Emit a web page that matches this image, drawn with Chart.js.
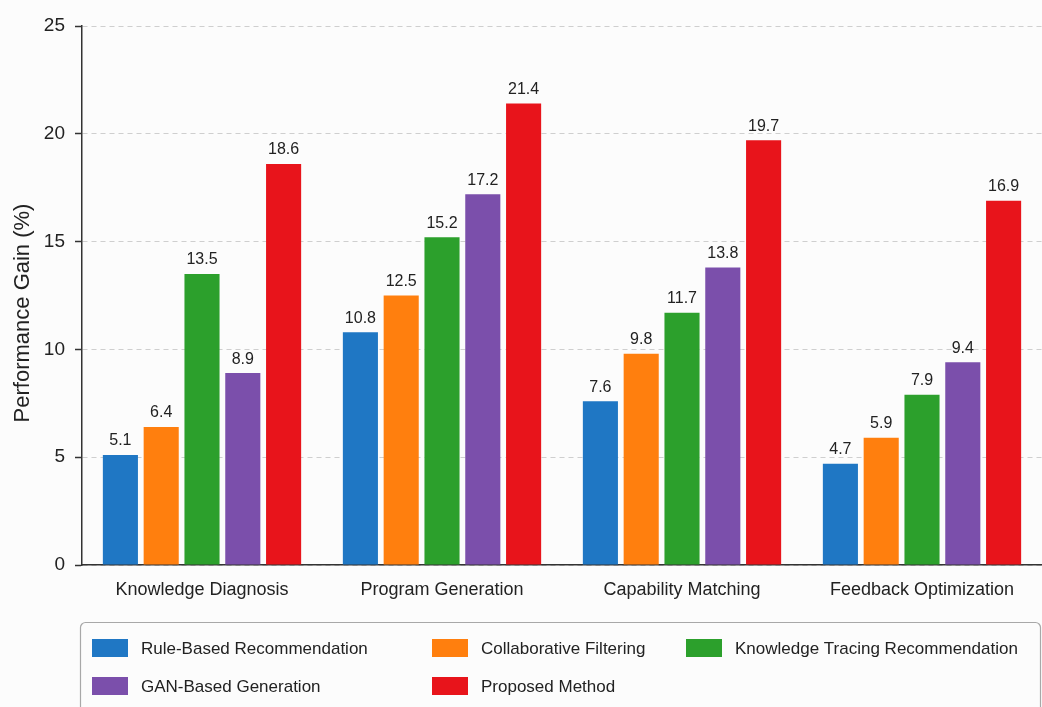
<!DOCTYPE html>
<html>
<head>
<meta charset="utf-8">
<script src="https://cdn.jsdelivr.net/npm/chart.js@4.4.1/dist/chart.umd.min.js"></script>
<style>
  html, body { margin: 0; padding: 0; background: #fcfcfc; }
  #wrap { width: 1042px; height: 707px; position: relative; }
</style>
</head>
<body>
<div id="wrap"><canvas id="gainChart"></canvas></div>
<script>
// categories + series
const categories = ["Knowledge Diagnosis", "Program Generation", "Capability Matching", "Feedback Optimization"];
const ruleBased     = [5.1, 10.8, 7.6, 4.7];
const collaborative = [6.4, 12.5, 9.8, 5.9];
const knowTracing   = [13.5, 15.2, 11.7, 7.9];
const ganBased      = [8.9, 17.2, 13.8, 9.4];
const proposed      = [18.6, 21.4, 19.7, 16.9];
const seriesNames = ["Rule-Based Recommendation", "Collaborative Filtering", "Knowledge Tracing Recommendation", "GAN-Based Generation", "Proposed Method"];
const yTicks = [0, 5, 10, 15, 20, 25];
const yTitle = "Performance Gain (%)";

const colors = ["#1f77c4", "#ff7f0e", "#2ca02c", "#7b4fab", "#e8141b"];
const FONT = "'Liberation Sans', Arial, sans-serif";

const q = id => document.getElementById(id);

// value labels on top of each bar
const valueLabels = {
  id: "valueLabels",
  afterDatasetsDraw(chart){
    const c = chart.ctx;
    c.save();
    c.font = "16px " + FONT;
    c.fillStyle = "#222";
    c.textAlign = "center";
    c.textBaseline = "bottom";
    chart.data.datasets.forEach((ds, i) => {
      const meta = chart.getDatasetMeta(i);
      meta.data.forEach((bar, j) => {
        c.fillText(ds.data[j].toFixed(1), bar.x, bar.y - 6);
      });
    });
    c.restore();
  }
};

// y title sits a bit below the plot middle in the original
const sideTitle = {
  id: "sideTitle",
  afterDraw(chart){
    const c = chart.ctx;
    c.save();
    c.translate(23, 313);
    c.rotate(-Math.PI / 2);
    c.font = "22px " + FONT;
    c.fillStyle = "#222";
    c.textAlign = "center";
    c.textBaseline = "middle";
    c.fillText(yTitle, 0, 0);
    c.restore();
  }
};

// boxed legend in 3 columns under the plot
const boxLegend = {
  id: "boxLegend",
  afterDraw(chart){
    const c = chart.ctx;
    const top = 622, left = 80, right = 1040;
    c.save();
    c.strokeStyle = "#a8a8a8";
    c.lineWidth = 1.2;
    c.beginPath();
    c.roundRect(left + 0.5, top + 0.5, right - left, 120, 5);
    c.stroke();
    const cols = [92, 432, 686];
    const rows = [648, 686];
    c.font = "17px " + FONT;
    c.textBaseline = "middle";
    chart.data.datasets.forEach((ds, i) => {
      const x = cols[i % 3], y = rows[Math.floor(i / 3)];
      c.fillStyle = ds.backgroundColor;
      c.fillRect(x, y - 9, 36, 18);
      c.fillStyle = "#222";
      c.fillText(ds.label, x + 49, y + 1);
    });
    c.restore();
  }
};

const bg = {
  id: "bg",
  beforeDraw(chart){
    const c = chart.ctx;
    c.save();
    c.fillStyle = "#fcfcfc";
    c.fillRect(0, 0, chart.width, chart.height);
    c.restore();
  }
};

const seriesData = [ruleBased, collaborative, knowTracing, ganBased, proposed];

new Chart(q("gainChart"), {
  type: "bar",
  data: {
    labels: categories,
    datasets: seriesData.map((d, i) => ({
      label: seriesNames[i],
      data: d,
      backgroundColor: colors[i],
      borderWidth: 0,
      categoryPercentage: 0.85,
      barPercentage: 0.86
    }))
  },
  options: {
    responsive: true,
    maintainAspectRatio: false,
    animation: false,
    layout: { padding: { top: 26, right: 0, bottom: 85, left: 12 } },
    plugins: {
      legend: { display: false },
      tooltip: { enabled: false }
    },
    scales: {
      x: {
        grid: { display: false },
        border: { display: true, color: "#333", width: 1.5 },
        ticks: { color: "#222", font: { family: FONT, size: 18 }, padding: 6 },
        afterFit(scale){ scale.height = 57; }
      },
      y: {
        min: 0, max: 25,
        afterBuildTicks(scale){ scale.ticks = yTicks.map(v => ({ value: v })); },
        grid: { color: "#cfcfcf", lineWidth: 1, tickColor: "#333", tickLength: 7, tickBorderDash: [], tickWidth: 1.5 },
        border: { display: true, color: "#333", width: 1.5, dash: [5, 4] },
        ticks: { color: "#222", font: { family: FONT, size: 19 }, padding: 10 },
        afterFit(scale){ scale.width = 70; }
      }
    }
  },
  plugins: [bg, valueLabels, sideTitle, boxLegend]
});
</script>
</body>
</html>
